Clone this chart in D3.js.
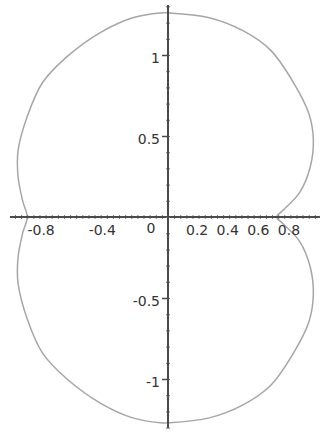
<!DOCTYPE html>
<html>
<head>
<meta charset="utf-8">
<script src="https://cdn.jsdelivr.net/npm/d3@7"></script>
<style>
  html, body { margin: 0; padding: 0; background: #fff; }
  svg { display: block; }
  text { font-family: "DejaVu Sans", sans-serif; }
</style>
</head>
<body>
<svg id="chart" width="320" height="433"></svg>
<script>
// Closed curve, traced counter-clockwise starting at the right notch
const curveX = [0.71, 0.75, 0.86, 0.93, 0.95, 0.92, 0.82, 0.67, 0.49, 0.27, 0.01, -0.05, -0.23, -0.44, -0.66, -0.82, -0.92, -0.98, -0.98, -0.95, -0.92,
                -0.95, -0.98, -0.98, -0.92, -0.82, -0.66, -0.44, -0.23, -0.05, 0.01, 0.27, 0.49, 0.67, 0.82, 0.92, 0.95, 0.93, 0.86, 0.75];
const curveY = [0.00, 0.04, 0.15, 0.31, 0.48, 0.64, 0.83, 1.03, 1.15, 1.23, 1.26, 1.26, 1.23, 1.14, 0.99, 0.83, 0.62, 0.41, 0.25, 0.10, 0.00,
                -0.10, -0.25, -0.41, -0.63, -0.84, -1.00, -1.15, -1.24, -1.27, -1.27, -1.24, -1.16, -1.04, -0.84, -0.65, -0.48, -0.31, -0.15, -0.04];

const xTickLabels = [-0.8, -0.4, 0.2, 0.4, 0.6, 0.8];
const yTickLabels = [1, 0.5, -0.5, -1];

const W = 320, H = 433;
const svg = d3.select("#chart");

const x = d3.scaleLinear().domain([-168 / 153, (W - 168) / 153]).range([0, W]);
const y = d3.scaleLinear().domain([217 / 162, -(H - 217) / 162]).range([0, H]);

const fmt = d => String(d);

// Curve
const pts = curveX.map((v, i) => [v, curveY[i]]);
const line = d3.line().x(d => x(d[0])).y(d => y(d[1])).curve(d3.curveCatmullRomClosed.alpha(0.5));
svg.append("path")
  .attr("d", line(pts))
  .attr("fill", "none")
  .attr("stroke", "#a6a6a6")
  .attr("stroke-width", 1.5);

const axisColor = "#4a4a4a";

// Horizontal axis
const xMinor = d3.range(-1.0, 0.99, 0.04).map(v => +v.toFixed(2));
const gx = svg.append("g").attr("transform", `translate(0,${y(0)})`);
gx.call(d3.axisBottom(x).tickValues(xMinor).tickSize(2).tickSizeOuter(0).tickFormat(""));
gx.select(".domain").remove();
gx.selectAll(".tick line").attr("stroke", "#777").attr("y1", -2).attr("y2", 2);
gx.append("line")
  .attr("x1", x(-1.033)).attr("x2", x(0.993))
  .attr("stroke", axisColor).attr("stroke-width", 2);

const gxl = svg.append("g").attr("transform", `translate(0,${y(0)})`);
gxl.call(d3.axisBottom(x).tickValues(xTickLabels).tickSize(0).tickPadding(8).tickFormat(fmt));
gxl.select(".domain").remove();
gxl.selectAll("text").attr("font-size", 14).attr("fill", "#333")
  .attr("dx", d => d < 0 ? -5 : -2);
// origin label sits left of the vertical axis
svg.append("text").attr("x", 151).attr("y", y(0) + 16)
  .attr("text-anchor", "middle").attr("font-size", 14).attr("fill", "#333").text("0");

// Vertical axis
const yMinor = d3.range(-1.3, 1.31, 0.1).map(v => +v.toFixed(2));
const gy = svg.append("g").attr("transform", `translate(${x(0)},0)`);
gy.call(d3.axisLeft(y).tickValues(yMinor).tickSize(2).tickFormat(""));
gy.select(".domain").remove();
gy.selectAll(".tick line").attr("stroke", "#777").attr("x1", -2).attr("x2", 2);
gy.append("line")
  .attr("y1", y(1.309)).attr("y2", y(-1.302))
  .attr("stroke", axisColor).attr("stroke-width", 2);

const gyl = svg.append("g").attr("transform", `translate(${x(0)},0)`);
gyl.call(d3.axisLeft(y).tickValues(yTickLabels).tickSize(6).tickPadding(2).tickFormat(fmt));
gyl.select(".domain").remove();
gyl.selectAll(".tick line").attr("stroke", axisColor).attr("stroke-width", 1.5);
gyl.selectAll("text").attr("font-size", 14).attr("fill", "#333").attr("dy", "0.55em");
</script>
</body>
</html>
